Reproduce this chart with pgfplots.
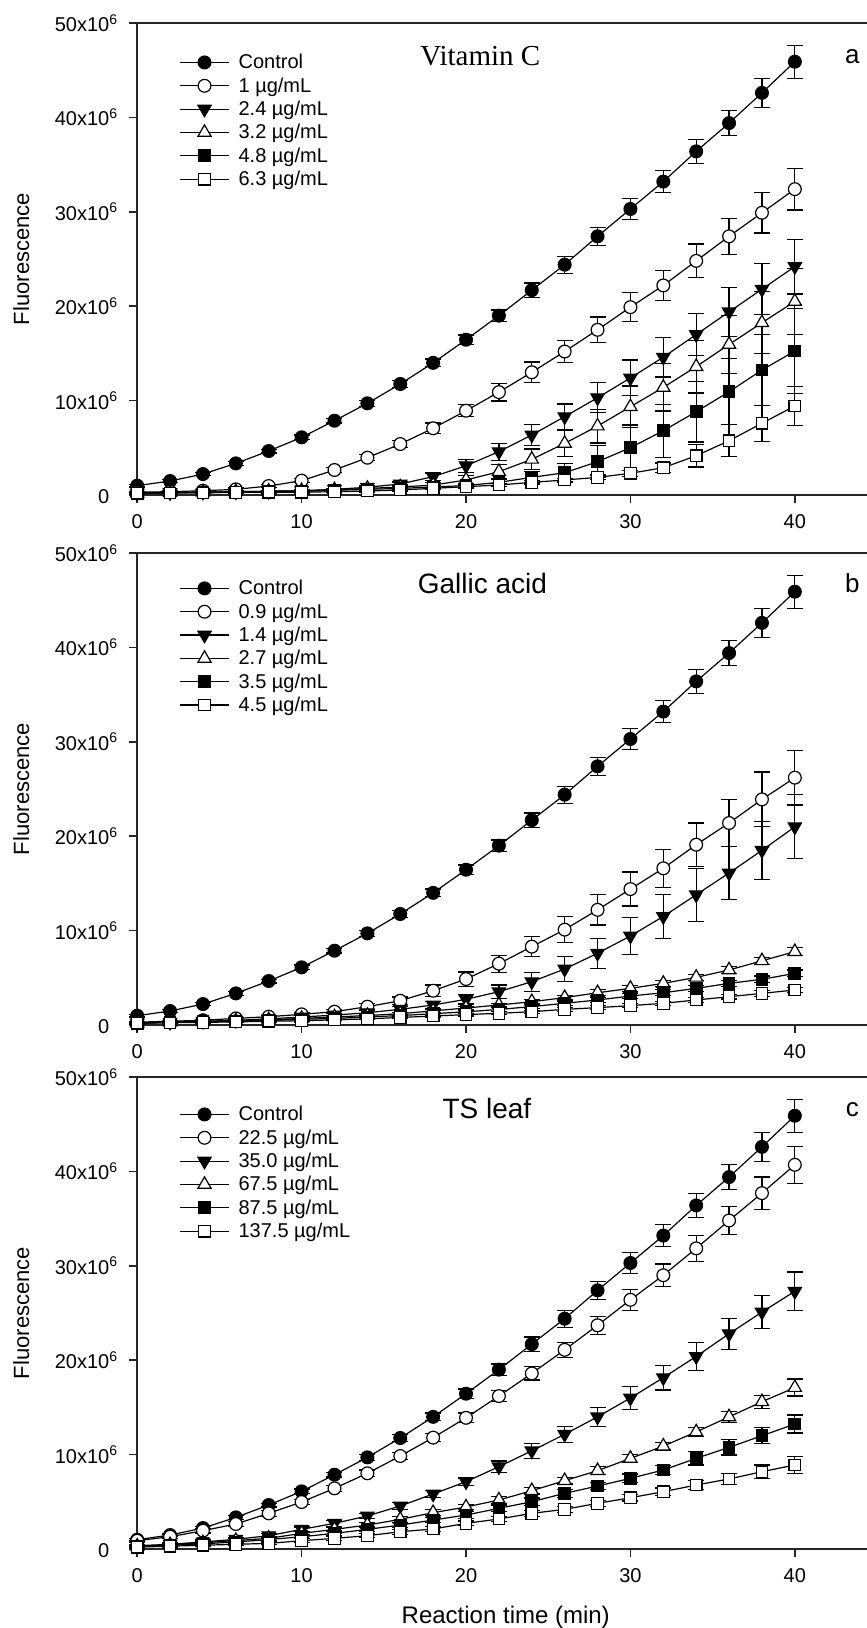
\documentclass[border=0pt]{standalone}
\usepackage{fontspec}
\setmainfont{Liberation Sans}
\newfontfamily\serif{Liberation Serif}
\usepackage{pgfplots}
\usepackage{pgfplotstable}
\pgfplotsset{compat=1.18}

% Control is the same curve in all three panels
\pgfplotstableread{
t  v     e
0  0.99  0.15
2  1.48  0.15
4  2.22  0.15
6  3.35  0.2
8  4.66  0.2
10 6.11  0.25
12 7.87  0.25
14 9.71  0.3
16 11.76 0.35
18 14.0  0.4
20 16.45 0.5
22 19.0  0.6
24 21.7  0.75
26 24.4  0.9
28 27.4  0.95
30 30.3  1.1
32 33.2  1.15
34 36.4  1.3
36 39.4  1.35
38 42.6  1.55
40 45.9  1.75
}\ctrl

% a: Vitamin C (1, 2.4, 3.2, 4.8, 6.3 ug/mL)
\pgfplotstableread{
t  a     ae    b     be    c     ce    d     de    f     fe
0  0.3   0.1   0.2   0.1   0.2   0.1   0.2   0.1   0.2   0.1
2  0.35  0.1   0.25  0.1   0.25  0.1   0.22  0.1   0.22  0.1
4  0.45  0.1   0.3   0.1   0.3   0.1   0.25  0.1   0.24  0.1
6  0.6   0.15  0.35  0.1   0.35  0.1   0.3   0.1   0.27  0.1
8  0.95  0.15  0.4   0.1   0.4   0.1   0.35  0.1   0.3   0.1
10 1.52  0.2   0.45  0.1   0.45  0.1   0.4   0.1   0.3   0.1
12 2.65  0.25  0.6   0.1   0.55  0.1   0.5   0.1   0.35  0.1
14 3.95  0.3   0.82  0.15  0.7   0.15  0.6   0.1   0.42  0.1
16 5.4   0.4   1.17  0.2   0.85  0.2   0.7   0.15  0.53  0.1
18 7.07  0.55  1.94  0.4   1.05  0.3   0.85  0.15  0.71  0.1
20 8.93  0.65  3.1   0.7   1.59  0.5   1.0   0.2   0.88  0.15
22 10.9  0.95  4.59  0.9   2.47  0.8   1.34  0.4   1.06  0.15
24 13.0  1.1   6.36  1.15  3.78  1.1   1.87  0.6   1.34  0.2
26 15.2  1.15  8.3   1.35  5.47  1.4   2.36  1.0   1.59  0.2
28 17.5  1.35  10.3  1.6   7.3   1.8   3.53  1.7   1.87  0.25
30 19.9  1.55  12.4  1.9   9.35  2.2   5.01  2.4   2.3   0.3
32 22.2  1.6   14.6  2.1   11.4  2.5   6.81  2.8   2.89  0.5
34 24.8  1.8   17.0  2.25  13.6  2.8   8.82  3.2   4.16  1.2
36 27.4  1.9   19.4  2.6   15.95 3.1   10.94 3.5   5.75  1.7
38 29.9  2.15  21.8  2.7   18.25 3.3   13.24 3.8   7.6   1.9
40 32.4  2.2   24.2  2.9   20.5  3.5   15.25 4.5   9.43  2.1
}\tabA

% b: Gallic acid (0.9, 1.4, 2.7, 3.5, 4.5 ug/mL)
\pgfplotstableread{
t  a     ae    b     be    c     ce    d     de    f     fe
0  0.3   0.1   0.2   0.1   0.2   0.1   0.2   0.1   0.2   0.1
2  0.4   0.1   0.3   0.1   0.3   0.1   0.27  0.1   0.24  0.1
4  0.5   0.1   0.4   0.1   0.35  0.1   0.33  0.1   0.28  0.1
6  0.7   0.1   0.5   0.1   0.45  0.1   0.4   0.1   0.33  0.1
8  0.88  0.15  0.65  0.1   0.55  0.1   0.5   0.1   0.4   0.1
10 1.13  0.15  0.85  0.15  0.7   0.1   0.6   0.1   0.45  0.1
12 1.41  0.2   1.05  0.15  0.85  0.1   0.7   0.1   0.55  0.1
14 1.94  0.3   1.3   0.2   1.0   0.15  0.85  0.1   0.65  0.1
16 2.57  0.4   1.66  0.3   1.2   0.15  1.0   0.15  0.8   0.1
18 3.63  0.6   2.12  0.4   1.5   0.2   1.2   0.15  0.95  0.1
20 4.87  0.75  2.72  0.5   1.8   0.2   1.4   0.2   1.1   0.15
22 6.5   0.9   3.53  0.7   2.12  0.2   1.65  0.2   1.24  0.15
24 8.3   1.05  4.59  1.0   2.47  0.25  1.95  0.2   1.41  0.15
26 10.1  1.4   5.93  1.3   2.9   0.25  2.3   0.2   1.66  0.2
28 12.2  1.6   7.6   1.6   3.42  0.3   2.65  0.25  1.84  0.2
30 14.4  1.8   9.43  2.0   3.88  0.3   3.07  0.25  2.05  0.2
32 16.6  2.0   11.5  2.3   4.41  0.3   3.42  0.3   2.3   0.2
34 19.1  2.3   13.8  2.8   5.05  0.3   3.88  0.3   2.65  0.25
36 21.4  2.5   16.1  2.8   5.83  0.35  4.41  0.3   3.0   0.25
38 23.9  2.9   18.5  3.1   6.8   0.35  4.84  0.35  3.35  0.3
40 26.2  2.9   21.0  3.4   7.77  0.4   5.47  0.35  3.71  0.3
}\tabB

% c: TS leaf (22.5, 35.0, 67.5, 87.5, 137.5 ug/mL)
\pgfplotstableread{
t  a     ae    b     be    c     ce    d     de    f     fe
0  0.88  0.2   0.35  0.15  0.3   0.15  0.3   0.1   0.2   0.1
2  1.3   0.2   0.5   0.15  0.45  0.15  0.4   0.1   0.3   0.1
4  1.94  0.25  0.75  0.2   0.65  0.15  0.55  0.15  0.4   0.15
6  2.65  0.25  1.03  0.2   0.9   0.2   0.75  0.15  0.5   0.15
8  3.78  0.3   1.41  0.25  1.13  0.2   1.0   0.2   0.6   0.15
10 4.98  0.3   2.08  0.25  1.66  0.2   1.3   0.2   0.88  0.2
12 6.43  0.3   2.72  0.3   2.08  0.25  1.66  0.25  1.13  0.2
14 8.02  0.35  3.5   0.3   2.54  0.25  2.08  0.25  1.41  0.2
16 9.85  0.4   4.56  0.35  3.14  0.3   2.54  0.3   1.83  0.25
18 11.8  0.45  5.83  0.4   3.85  0.3   3.07  0.3   2.12  0.25
20 13.9  0.5   7.13  0.4   4.45  0.3   3.6   0.35  2.72  0.25
22 16.2  0.6   8.72  0.6   5.19  0.35  4.31  0.35  3.18  0.3
24 18.6  0.7   10.4  0.8   6.18  0.35  5.01  0.4   3.78  0.3
26 21.1  0.8   12.15 0.85  7.24  0.35  5.9   0.4   4.2   0.3
28 23.7  0.95  14.0  1.0   8.3   0.4   6.67  0.4   4.84  0.3
30 26.4  1.1   16.0  1.2   9.6   0.4   7.49  0.45  5.43  0.35
32 29.0  1.2   18.15 1.3   10.9  0.4   8.37  0.5   6.07  0.4
34 31.85 1.4   20.4  1.5   12.4  0.5   9.6   0.7   6.78  0.5
36 34.8  1.5   22.8  1.65  14.0  0.6   10.77 0.8   7.42  0.6
38 37.7  1.7   25.1  1.75  15.6  0.7   12.0  0.85  8.19  0.7
40 40.7  1.95  27.3  2.05  17.1  0.9   13.24 0.95  8.9   0.9
}\tabC

\pgfplotsset{
    panel/.style={
        scale only axis, width=364.9pt, height=236pt,
        xmin=0, xmax=44.39, ymin=0, ymax=50,
        axis x line*=box, axis y line*=left,
        axis line style={black!85, line width=0.75pt},
        tick align=outside, tick pos=left,
        major tick length=4pt,
        every tick/.style={black!85, line width=0.75pt},
        xtick={0,10,20,30,40}, ytick={0,10,20,30,40,50},
        xticklabels={0,10,20,30,40},
        yticklabels={0\phantom{\textsuperscript{6}},10x10\textsuperscript{6},20x10\textsuperscript{6},30x10\textsuperscript{6},40x10\textsuperscript{6},50x10\textsuperscript{6}},
        /pgf/number format/assume math mode=true,
        tick label style={font=\fontsize{10}{12}\selectfont},
        xticklabel style={yshift=-2.3pt},
        yticklabel style={xshift=-2pt},
        ylabel={Fluorescence},
        ylabel style={at={(axis description cs:-0.159,0.5)}, anchor=center, font=\fontsize{11}{13}\selectfont},
        clip=false,
        legend cell align={left},
        legend image code/.code={
            \draw[mark repeat=2, mark phase=2, ##1] plot coordinates {(0pt,0pt) (12.25pt,0pt) (24.5pt,0pt)};},
        legend style={draw=none, fill=none, inner sep=0pt, row sep=0pt,
            font=\fontsize{10}{12}\selectfont,
            nodes={inner sep=0pt, text height=9pt, text depth=2.67pt},
            /tikz/every odd column/.append style={column sep=4.5pt}},
    },
    ser/.style={black, line width=0.6pt, mark size=3.2pt,
        error bars/y dir=both, error bars/y explicit,
        error bars/error mark options={rotate=90, mark size=4pt, line width=0.6pt, black},
        error bars/error bar style={line width=0.6pt, black}},
}
\tikzset{
    sC/.style={mark=*, mark options={solid, fill=black}},
    sO/.style={mark=*, mark options={solid, fill=white}},
    sTd/.style={mark=triangle*, mark options={solid, fill=black, rotate=180, mark size=3.8pt}},
    sTu/.style={mark=triangle*, mark options={solid, fill=white, mark size=3.8pt}},
    sSf/.style={mark=square*, mark options={solid, fill=black, mark size=2.9pt}},
    sSo/.style={mark=square*, mark options={solid, fill=white, mark size=2.9pt}},
}

\begin{document}
\begin{tikzpicture}
\useasboundingbox (0,0) rectangle (433.5pt,-814pt);

% ---- panel a ----
\begin{axis}[panel, at={(68.6pt,-247.5pt)}, anchor=south west,
    legend style={at={(axis description cs:0.0573,0.942)}, anchor=north west}]
\addplot[ser, sC]  table[x=t, y=v, y error=e]  {\ctrl}; \addlegendentry{Control}
\addplot[ser, sO]  table[x=t, y=a, y error=ae] {\tabA}; \addlegendentry{1 µg/mL}
\addplot[ser, sTd] table[x=t, y=b, y error=be] {\tabA}; \addlegendentry{2.4 µg/mL}
\addplot[ser, sTu] table[x=t, y=c, y error=ce] {\tabA}; \addlegendentry{3.2 µg/mL}
\addplot[ser, sSf] table[x=t, y=d, y error=de] {\tabA}; \addlegendentry{4.8 µg/mL}
\addplot[ser, sSo] table[x=t, y=f, y error=fe] {\tabA}; \addlegendentry{6.3 µg/mL}
\node[anchor=west, inner sep=0pt, font=\serif\fontsize{14.5}{17}\selectfont] at (axis cs:17.2,46.5) {Vitamin C};
\node[inner sep=0pt, font=\fontsize{13}{15}\selectfont] at (axis cs:43.5,46.4) {a};
\end{axis}

% ---- panel b ----
\begin{axis}[panel, at={(68.6pt,-512.5pt)}, anchor=south west,
    legend style={at={(axis description cs:0.0573,0.9506)}, anchor=north west}]
\addplot[ser, sC]  table[x=t, y=v, y error=e]  {\ctrl}; \addlegendentry{Control}
\addplot[ser, sO]  table[x=t, y=a, y error=ae] {\tabB}; \addlegendentry{0.9 µg/mL}
\addplot[ser, sTd] table[x=t, y=b, y error=be] {\tabB}; \addlegendentry{1.4 µg/mL}
\addplot[ser, sTu] table[x=t, y=c, y error=ce] {\tabB}; \addlegendentry{2.7 µg/mL}
\addplot[ser, sSf] table[x=t, y=d, y error=de] {\tabB}; \addlegendentry{3.5 µg/mL}
\addplot[ser, sSo] table[x=t, y=f, y error=fe] {\tabB}; \addlegendentry{4.5 µg/mL}
\node[anchor=west, inner sep=0pt, font=\fontsize{14}{17}\selectfont] at (axis cs:17.04,46.8) {Gallic acid};
\node[inner sep=0pt, font=\fontsize{13}{15}\selectfont] at (axis cs:43.5,46.8) {b};
\end{axis}

% ---- panel c ----
\begin{axis}[panel, at={(68.6pt,-774.5pt)}, anchor=south west,
    xlabel={Reaction time (min)},
    xlabel style={at={(axis description cs:0.505,-0.144)}, anchor=center, font=\fontsize{12}{14}\selectfont},
    legend style={at={(axis description cs:0.0573,0.9463)}, anchor=north west}]
\addplot[ser, sC]  table[x=t, y=v, y error=e]  {\ctrl}; \addlegendentry{Control}
\addplot[ser, sO]  table[x=t, y=a, y error=ae] {\tabC}; \addlegendentry{22.5 µg/mL}
\addplot[ser, sTd] table[x=t, y=b, y error=be] {\tabC}; \addlegendentry{35.0 µg/mL}
\addplot[ser, sTu] table[x=t, y=c, y error=ce] {\tabC}; \addlegendentry{67.5 µg/mL}
\addplot[ser, sSf] table[x=t, y=d, y error=de] {\tabC}; \addlegendentry{87.5 µg/mL}
\addplot[ser, sSo] table[x=t, y=f, y error=fe] {\tabC}; \addlegendentry{137.5 µg/mL}
\node[anchor=west, inner sep=0pt, font=\fontsize{14}{17}\selectfont] at (axis cs:18.55,46.7) {TS leaf};
\node[inner sep=0pt, font=\fontsize{13}{15}\selectfont] at (axis cs:43.5,46.5) {c};
\end{axis}
\end{tikzpicture}
\end{document}
